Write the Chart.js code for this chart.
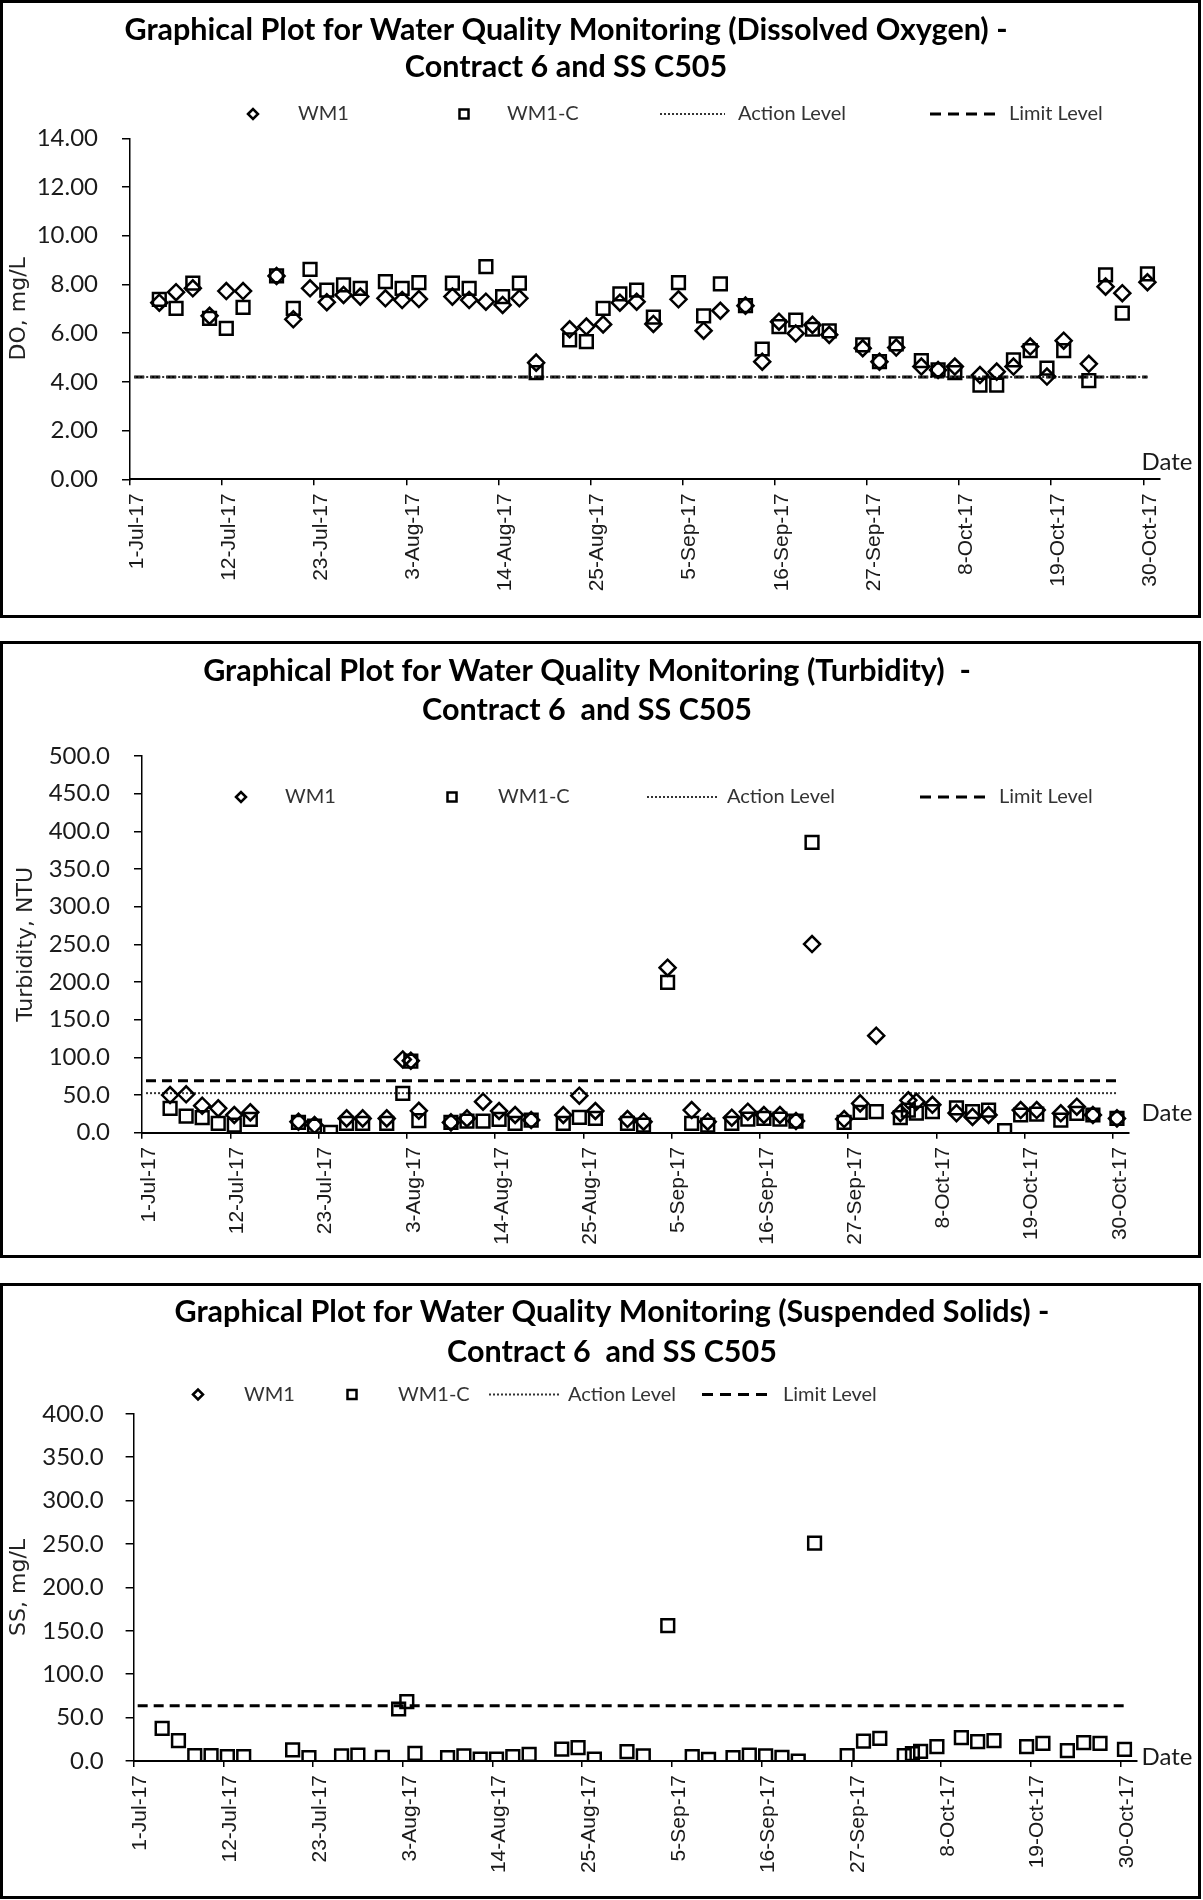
<!DOCTYPE html>
<html>
<head>
<meta charset="utf-8">
<script src="https://cdn.jsdelivr.net/npm/chart.js@4.4.1/dist/chart.umd.min.js"></script>
<style>
  html, body { margin: 0; padding: 0; background: #fff; }
  body { width: 1203px; height: 1900px; position: relative; }
  .panel { position: absolute; left: 0; width: 1201px; border: 3px solid #000; box-sizing: border-box; background: #fff; }
  .panel canvas { display: block; }
</style>
</head>
<body>
<div class="panel" style="top:0;height:618px"><canvas id="doChart" width="1195" height="612"></canvas></div>
<div class="panel" style="top:641px;height:617px"><canvas id="turbChart" width="1195" height="611"></canvas></div>
<div class="panel" style="top:1283px;height:616px"><canvas id="ssChart" width="1195" height="610"></canvas></div>
<script>
// x axis: days counted from 1-Jul-17, a tick every 11 days
const startDate = '2017-07-01';
const xTickDays = [0, 11, 22, 33, 44, 55, 66, 77, 88, 99, 110, 121];
const xTickLabels = ['1-Jul-17', '12-Jul-17', '23-Jul-17', '3-Aug-17', '14-Aug-17', '25-Aug-17',
  '5-Sep-17', '16-Sep-17', '27-Sep-17', '8-Oct-17', '19-Oct-17', '30-Oct-17'];
const levelDates = ['2017-07-01', '2017-10-30'];

// Dissolved oxygen
const doDates = ['2017-07-04', '2017-07-06', '2017-07-08', '2017-07-10', '2017-07-12', '2017-07-14',
  '2017-07-18', '2017-07-20', '2017-07-22', '2017-07-24', '2017-07-26', '2017-07-28', '2017-07-31',
  '2017-08-02', '2017-08-04', '2017-08-08', '2017-08-10', '2017-08-12', '2017-08-14', '2017-08-16',
  '2017-08-18', '2017-08-22', '2017-08-24', '2017-08-26', '2017-08-28', '2017-08-30', '2017-09-01',
  '2017-09-04', '2017-09-07', '2017-09-09', '2017-09-12', '2017-09-14', '2017-09-16', '2017-09-18',
  '2017-09-20', '2017-09-22', '2017-09-26', '2017-09-28', '2017-09-30', '2017-10-03', '2017-10-05',
  '2017-10-07', '2017-10-10', '2017-10-12', '2017-10-14', '2017-10-16', '2017-10-18', '2017-10-20',
  '2017-10-23', '2017-10-25', '2017-10-27', '2017-10-30'];
const doWM1 = [7.25, 7.68, 7.84, 6.71, 7.73, 7.73, 8.35, 6.57, 7.84, 7.27, 7.57, 7.50, 7.43,
  7.36, 7.40, 7.50, 7.36, 7.29, 7.16, 7.43, 4.79, 6.16, 6.27, 6.36, 7.25, 7.29, 6.38,
  7.39, 6.10, 6.92, 7.13, 4.83, 6.47, 5.99, 6.34, 5.93, 5.38, 4.83, 5.41, 4.63, 4.49,
  4.63, 4.28, 4.42, 4.63, 5.45, 4.22, 5.69, 4.74, 7.91, 7.64, 8.09];
const doWM1C = [7.39, 7.02, 8.05, 6.61, 6.20, 7.06, 8.35, 7.02, 8.62, 7.77, 7.98, 7.84, 8.12,
  7.84, 8.07, 8.05, 7.84, 8.73, 7.50, 8.05, 4.38, 5.72, 5.65, 7.02, 7.61, 7.77, 6.66,
  8.07, 6.71, 8.02, 7.13, 5.35, 6.27, 6.54, 6.16, 6.09, 5.52, 4.83, 5.56, 4.87, 4.49,
  4.38, 3.87, 3.87, 4.90, 5.28, 4.56, 5.28, 4.05, 8.39, 6.82, 8.43];
const doAction = [4.2, 4.2];
const doLimit = [4.2, 4.2];

// Turbidity and suspended solids share the sampling dates
const wqDates = ['2017-07-04', '2017-07-06', '2017-07-08', '2017-07-10', '2017-07-12', '2017-07-14',
  '2017-07-20', '2017-07-22', '2017-07-24', '2017-07-26', '2017-07-28', '2017-07-31', '2017-08-02',
  '2017-08-03', '2017-08-04', '2017-08-08', '2017-08-10', '2017-08-12', '2017-08-14', '2017-08-16',
  '2017-08-18', '2017-08-22', '2017-08-24', '2017-08-26', '2017-08-30', '2017-09-01', '2017-09-04',
  '2017-09-07', '2017-09-09', '2017-09-12', '2017-09-14', '2017-09-16', '2017-09-18', '2017-09-20',
  '2017-09-22', '2017-09-26', '2017-09-28', '2017-09-30', '2017-10-03', '2017-10-04', '2017-10-05',
  '2017-10-07', '2017-10-10', '2017-10-12', '2017-10-14', '2017-10-16', '2017-10-18', '2017-10-20',
  '2017-10-23', '2017-10-25', '2017-10-27', '2017-10-30'];
const turbWM1 = [50.0, 50.9, 35.8, 32.3, 23.5, 27.0, 14.6, 10.2, null, 19.0, 19.0, 19.0, 97.3,
  95.5, 29.0, 13.7, 19.0, 41.2, 28.8, 23.5, 16.8, 23.5, 49.1, 28.8, 18.1, 14.6, 219.0,
  30.1, 14.6, 19.9, 27.9, 23.5, 23.5, 15.5, 250.4, 18.1, 38.9, 128.8, 26.0, 43.0, 41.0,
  37.0, 26.0, 21.0, 23.5, null, 30.1, 30.1, 25.7, 34.5, 23.5, 19.0];
const turbWM1C = [32.3, 22.1, 19.9, 12.4, 10.2, 17.7, 13.7, 8.8, 0.5, 12.4, 12.4, 12.4, 52.3,
  95.0, 16.0, 13.7, 15.5, 15.5, 17.7, 12.4, 16.8, 12.4, 20.4, 19.0, 12.4, 10.2, 199.6,
  12.4, 10.2, 12.4, 18.1, 19.0, 18.1, 15.5, 385.4, 13.7, 27.0, 27.9, 20.0, 30.0, 26.0,
  28.0, 33.0, 28.0, 30.0, 2.7, 23.5, 24.8, 16.8, 25.7, 23.5, 19.0];
const turbAction = [52.5, 52.5];
const turbLimit = [68.8, 68.8];

const ssWM1 = [];
const ssWM1C = [37.6, 23.4, 6.1, 6.1, 5.0, 5.0, 12.7, 3.8, null, 5.8, 6.9, 4.2, 59.9,
  68.4, 8.8, 3.8, 5.8, 2.3, 2.3, 5.0, 7.7, 13.8, 15.4, 2.3, 10.8, 5.8, 156.0,
  5.0, 1.9, 3.8, 6.9, 5.8, 4.2, 0.0, 251.0, 6.1, 23.0, 26.1, 6.1, 8.5, 11.0,
  16.5, 26.9, 22.3, 23.4, null, 16.5, 20.4, 11.9, 21.1, 20.4, 13.4];
const ssAction = [];
const ssLimit = [63.7, 63.7];

function toDay(d) {
  return (Date.parse(d) - Date.parse(startDate)) / 86400000;
}

// points sit in the middle of their day slot, as on the Excel date axis
function points(dates, values) {
  const out = [];
  values.forEach((v, i) => {
    if (v !== null && v !== undefined) out.push({ x: toDay(dates[i]) + 0.5, y: v });
  });
  return out;
}

// titles, legend row and the "Date" caption
const panelDecor = {
  id: 'panelDecor',
  afterDraw(chart) {
    const o = chart.options.plugins.panelDecor;
    const ctx = chart.ctx;
    const lg = o.legend;
    ctx.save();
    ctx.fillStyle = '#000';
    ctx.font = 'bold 30.5px Lato';
    ctx.textAlign = 'center';
    ctx.textBaseline = 'middle';
    o.title.forEach((t, i) => ctx.fillText(t, o.titleX, o.titleY[i]));

    ctx.strokeStyle = '#000';
    ctx.lineWidth = 2.5;
    // diamond
    ctx.beginPath();
    ctx.moveTo(lg.diamond - 5, lg.y);
    ctx.lineTo(lg.diamond, lg.y - 5);
    ctx.lineTo(lg.diamond + 5, lg.y);
    ctx.lineTo(lg.diamond, lg.y + 5);
    ctx.closePath();
    ctx.stroke();
    // square
    ctx.strokeRect(lg.square - 4.5, lg.y - 4.5, 9, 9);
    // dotted
    ctx.beginPath();
    ctx.setLineDash([2, 2]);
    ctx.lineWidth = 2;
    ctx.strokeStyle = '#333';
    ctx.moveTo(lg.dotted[0], lg.y);
    ctx.lineTo(lg.dotted[1], lg.y);
    ctx.stroke();
    // dashed
    ctx.beginPath();
    ctx.setLineDash([11, 7]);
    ctx.lineWidth = 3;
    ctx.strokeStyle = '#000';
    ctx.moveTo(lg.dashed[0], lg.y);
    ctx.lineTo(lg.dashed[1], lg.y);
    ctx.stroke();
    ctx.setLineDash([]);

    ctx.fillStyle = '#333';
    ctx.font = '20px Lato';
    ctx.textAlign = 'left';
    ctx.fillText('WM1', lg.text[0], lg.y);
    ctx.fillText('WM1-C', lg.text[1], lg.y);
    ctx.fillText('Action Level', lg.text[2], lg.y);
    ctx.fillText('Limit Level', lg.text[3], lg.y);

    ctx.fillStyle = '#1a1a1a';
    ctx.font = '24px Lato';
    ctx.textAlign = 'center';
    ctx.fillText('Date', o.dateX, o.dateY);
    ctx.restore();
  }
};

function makeChart(id, s) {
  const canvas = document.getElementById(id);
  return new Chart(canvas, {
    type: 'scatter',
    data: {
      datasets: [
        { label: 'WM1', data: points(s.dates, s.wm1), pointStyle: 'rectRot', pointRadius: 8,
          borderColor: '#000', backgroundColor: 'rgba(0,0,0,0)', pointBorderWidth: 2.5 },
        { label: 'WM1-C', data: points(s.dates, s.wm1c), pointStyle: 'rect', pointRadius: 9,
          borderColor: '#000', backgroundColor: 'rgba(0,0,0,0)', pointBorderWidth: 2.5 },
        { label: 'Action Level', data: points(levelDates, s.action), showLine: true, pointRadius: 0,
          borderColor: '#333', borderWidth: 2, borderDash: [2, 2] },
        { label: 'Limit Level', data: points(levelDates, s.limit), showLine: true, pointRadius: 0,
          borderColor: '#000', borderWidth: 3, borderDash: [10, 6] }
      ]
    },
    options: {
      responsive: false,
      animation: false,
      events: [],
      layout: { autoPadding: false, padding: { left: 0, top: s.area.top, right: s.area.right, bottom: 0 } },
      plugins: {
        legend: { display: false },
        tooltip: { enabled: false },
        panelDecor: s.decor
      },
      scales: {
        x: {
          type: 'linear',
          min: 0,
          max: 123,
          afterBuildTicks: scale => { scale.ticks = xTickDays.map(v => ({ value: v })); },
          afterFit: scale => { scale.height = s.area.xHeight; },
          border: { color: '#000', width: 2 },
          grid: { drawOnChartArea: false, drawTicks: true, tickLength: 6, color: '#000', lineWidth: 1.5 },
          ticks: {
            autoSkip: false,
            minRotation: 90,
            maxRotation: 90,
            padding: 8,
            labelOffset: 7,
            color: '#1a1a1a',
            font: { family: 'Liberation Sans', size: 21 },
            callback: v => xTickLabels[xTickDays.indexOf(v)]
          }
        },
        y: {
          min: 0,
          max: s.yMax,
          afterFit: scale => { scale.width = s.area.yWidth; },
          border: { color: '#000', width: 1.5 },
          grid: { drawOnChartArea: false, drawTicks: true, tickLength: 8, color: '#000', lineWidth: 1.5 },
          ticks: {
            stepSize: s.yStep,
            padding: s.yPad,
            color: '#1a1a1a',
            font: { family: 'Lato', size: 24 },
            callback: v => v.toFixed(s.yDigits)
          },
          title: {
            display: true,
            text: s.yTitle,
            color: '#222',
            font: { family: 'DejaVu Sans', size: 22 },
            padding: { top: s.yTitlePad, bottom: 0 }
          }
        }
      }
    },
    plugins: [panelDecor]
  });
}

makeChart('doChart', {
  dates: doDates, wm1: doWM1, wm1c: doWM1C, action: doAction, limit: doLimit,
  yMax: 14, yStep: 2, yDigits: 2, yTitle: 'DO, mg/L', yTitlePad: 3, yPad: 24,
  area: { top: 135.3, right: 38, yWidth: 127, xHeight: 135.7 },
  decor: {
    title: ['Graphical Plot for Water Quality Monitoring (Dissolved Oxygen) -', 'Contract 6 and SS C505'],
    titleX: 563, titleY: [27, 64.6],
    legend: { y: 111, diamond: 250, square: 461, dotted: [657, 722], dashed: [927, 993], text: [295, 504, 735, 1006] },
    dateX: 1164, dateY: 459
  }
});

makeChart('turbChart', {
  dates: wqDates, wm1: turbWM1, wm1c: turbWM1C, action: turbAction, limit: turbLimit,
  yMax: 500, yStep: 50, yDigits: 1, yTitle: 'Turbidity, NTU', yTitlePad: 10, yPad: 24,
  area: { top: 112, right: 69, yWidth: 139, xHeight: 122.3 },
  decor: {
    title: ['Graphical Plot for Water Quality Monitoring (Turbidity)  -', 'Contract 6  and SS C505'],
    titleX: 584, titleY: [27, 66],
    legend: { y: 153, diamond: 238, square: 449, dotted: [644, 716], dashed: [917, 983], text: [282, 495, 724, 996] },
    dateX: 1164, dateY: 469
  }
});

makeChart('ssChart', {
  dates: wqDates, wm1: ssWM1, wm1c: ssWM1C, action: ssAction, limit: ssLimit,
  yMax: 400, yStep: 50, yDigits: 1, yTitle: 'SS, mg/L', yTitlePad: 3, yPad: 22,
  area: { top: 127.8, right: 61.3, yWidth: 130.6, xHeight: 135 },
  decor: {
    title: ['Graphical Plot for Water Quality Monitoring (Suspended Solids) -', 'Contract 6  and SS C505'],
    titleX: 609, titleY: [26, 66],
    legend: { y: 108.5, diamond: 195, square: 349, dotted: [486, 557], dashed: [699, 765], text: [241, 395, 565, 780] },
    dateX: 1164, dateY: 471
  }
});
</script>
</body>
</html>
